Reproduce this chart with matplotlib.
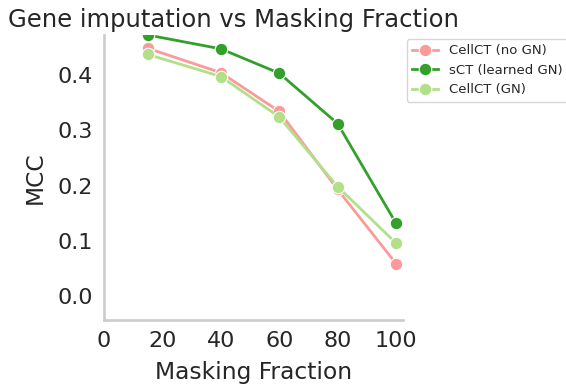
import matplotlib
matplotlib.use("Agg")
import matplotlib.pyplot as plt

# 데이터
masking = [15, 40, 60, 80, 100]
cellct_no_gn = [0.448, 0.404, 0.334, 0.193, 0.059]
sct_learned_gn = [0.472, 0.447, 0.403, 0.312, 0.132]
cellct_gn = [0.437, 0.397, 0.324, 0.198, 0.096]

series = [
    ("CellCT (no GN)", cellct_no_gn, "#fb9a99"),
    ("sCT (learned GN)", sct_learned_gn, "#33a02c"),
    ("CellCT (GN)", cellct_gn, "#b2df8a"),
]

plt.rcParams["font.family"] = "DejaVu Sans"
plt.rcParams["text.color"] = "#262626"
plt.rcParams["axes.labelcolor"] = "#262626"
plt.rcParams["xtick.color"] = "#262626"
plt.rcParams["ytick.color"] = "#262626"

fig = plt.figure(figsize=(5.66, 3.87), dpi=100)
ax = fig.add_axes([104 / 566, 1 - 320 / 387, 298.7 / 566, 285 / 387])

for name, vals, color in series:
    ax.plot(masking, vals, color=color, lw=2.0, marker="o", ms=9,
            markeredgecolor="white", markeredgewidth=0.8, label=name)

ax.set_xlim(0, 102.3)
ax.set_ylim(-0.043, 0.472)
ax.set_xticks([0, 20, 40, 60, 80, 100])
ax.set_yticks([0.0, 0.1, 0.2, 0.3, 0.4])
ax.tick_params(labelsize=16, length=0, pad=8)

for side in ["top", "right"]:
    ax.spines[side].set_visible(False)
for side in ["left", "bottom"]:
    ax.spines[side].set_color("#cccccc")
    ax.spines[side].set_linewidth(1.9)

ax.set_xlabel("Masking Fraction", fontsize=16.8, labelpad=7)
ax.set_ylabel("MCC", fontsize=16.8, labelpad=8)
ax.set_title("Gene imputation vs Masking Fraction", fontsize=17.5,
             x=(233.5 - 104) / 298.7, pad=6)

leg = ax.legend(loc="upper left", bbox_to_anchor=(1.0, 1.0), borderaxespad=0.3,
                fontsize=9.5, frameon=True, fancybox=True)
leg.get_frame().set_edgecolor("#cccccc")

fig.savefig("out.png", dpi=100)
